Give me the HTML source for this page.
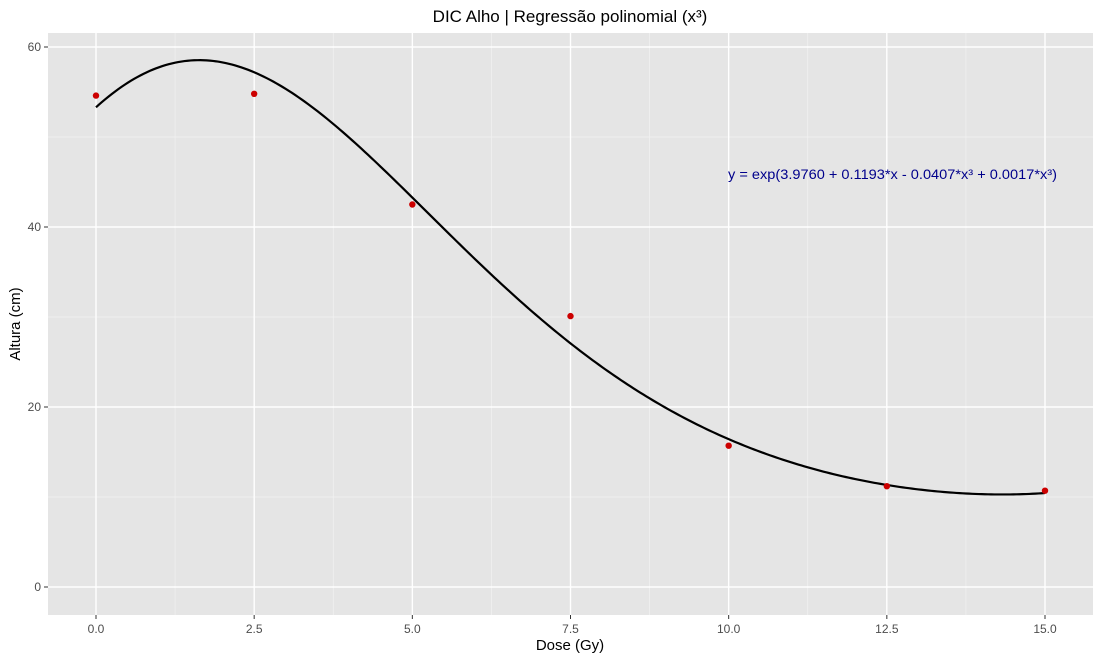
<!DOCTYPE html>
<html><head><meta charset="utf-8"><style>
body{margin:0;background:#fff;font-family:"Liberation Sans",Arial,sans-serif}
svg text{font-family:"Liberation Sans",Arial,sans-serif}
</style></head><body>
<svg id="chart" width="1100" height="660">
<text x="570" y="22" text-anchor="middle" font-size="17" fill="#000">DIC Alho | Regressão polinomial (x³)</text>
<rect x="48" y="33" width="1045" height="582" fill="#e5e5e5"/>
<g id="grid"></g>
<g id="xticks"></g>
<g id="yticks"></g>
<path id="curve" fill="none" stroke="#000" stroke-width="2.2"/>
<g id="points"></g>
<text x="728" y="179" font-size="14" textLength="329" lengthAdjust="spacingAndGlyphs" fill="#00008b">y = exp(3.9760 + 0.1193*x - 0.0407*x³ + 0.0017*x³)</text>
<text x="570" y="650" text-anchor="middle" font-size="15" fill="#000">Dose (Gy)</text>
<text x="20" y="324" text-anchor="middle" font-size="15" fill="#000" transform="rotate(-90 20 324)">Altura (cm)</text>
</svg>
<script>
const doses=[0,2.5,5,7.5,10,12.5,15];
const heights=[54.6,54.8,42.5,30.1,15.7,11.2,10.7];
const coefs=[3.9760,0.1193,-0.0407,0.0017];
const xTicks=[0,2.5,5,7.5,10,12.5,15];
const xTickLabels=["0.0","2.5","5.0","7.5","10.0","12.5","15.0"];
const yTicks=[0,20,40,60];
const yTickLabels=["0","20","40","60"];
const NS="http://www.w3.org/2000/svg";
const X=v=>96+v*(1045-96)/15;
const Y=v=>587-v*(587-47)/60;
function mk(tag,attrs,parent){const e=document.createElementNS(NS,tag);for(const k in attrs)e.setAttribute(k,attrs[k]);parent.appendChild(e);return e;}
const grid=document.getElementById('grid');
for(let i=0;i<xTicks.length-1;i++){const m=(xTicks[i]+xTicks[i+1])/2;
 const l=mk('line',{x1:X(m),x2:X(m),y1:33,y2:615,stroke:'#f2f2f2','stroke-width':0.7},grid);
 
 }
for(let i=0;i<yTicks.length-1;i++){const m=(yTicks[i]+yTicks[i+1])/2;
 const l=mk('line',{x1:48,x2:1093,y1:Y(m),y2:Y(m),stroke:'#f2f2f2','stroke-width':0.7},grid);
 
 }
const xt=document.getElementById('xticks');
xTicks.forEach((t,i)=>{
 const l=mk('line',{x1:X(t),x2:X(t),y1:33,y2:615,stroke:'#fff','stroke-width':1.4},grid);
 
 
 mk('line',{x1:X(t),x2:X(t),y1:615,y2:619,stroke:'#333','stroke-width':1},xt);
 const tx=mk('text',{x:X(t),y:633,'text-anchor':'middle','font-size':12,fill:'#4d4d4d'},xt);
 tx.textContent=xTickLabels[i];
 
 
});
const yt=document.getElementById('yticks');
yTicks.forEach((t,i)=>{
 const l=mk('line',{x1:48,x2:1093,y1:Y(t),y2:Y(t),stroke:'#fff','stroke-width':1.4},grid);
 
 
 mk('line',{x1:44,x2:48,y1:Y(t),y2:Y(t),stroke:'#333','stroke-width':1},yt);
 const tx=mk('text',{x:41,y:Y(t)+4,'text-anchor':'end','font-size':12,fill:'#4d4d4d'},yt);
 tx.textContent=yTickLabels[i];
 
 
});
let d='';
const x0=doses[0],x1=doses[doses.length-1];
for(let i=0;i<=300;i++){const x=x0+(x1-x0)*i/300;
 const y=Math.exp(coefs[0]+coefs[1]*x+coefs[2]*x*x+coefs[3]*x*x*x);
 d+=(i?'L':'M')+X(x).toFixed(2)+','+Y(y).toFixed(2);}
document.getElementById('curve').setAttribute('d',d);
const pts=document.getElementById('points');
doses.forEach((v,i)=>{
 const c=mk('circle',{cx:X(v),cy:Y(heights[i]),r:3.2,fill:'#cc0000'},pts);
 
 
});
</script>
</body></html>
